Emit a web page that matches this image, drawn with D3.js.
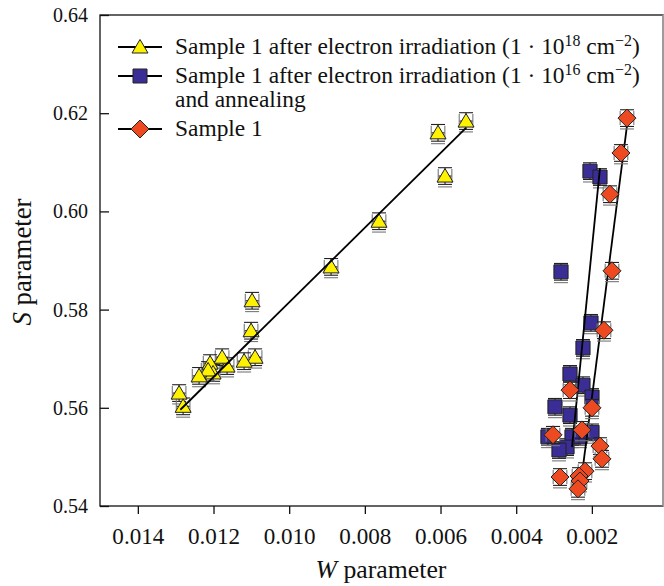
<!DOCTYPE html>
<html>
<head>
<meta charset="utf-8">
<script src="https://cdn.jsdelivr.net/npm/d3@7"></script>
<style>
  html, body { margin: 0; padding: 0; background: #fff; }
  svg text { font-family: "Liberation Serif", "DejaVu Serif", serif; fill: #111; }
</style>
</head>
<body>
<svg id="chart" width="664" height="586"></svg>
<script>
// ---- data (W parameter, S parameter) ----
const triW = [0.005326, 0.006066, 0.005881, 0.007625, 0.008893, 0.010980, 0.011007, 0.010901, 0.011192, 0.011641, 0.011773, 0.012090, 0.012011, 0.012143, 0.012381, 0.012909, 0.012803];
const triS = [0.6184, 0.6160, 0.6072, 0.5980, 0.5887, 0.5818, 0.5757, 0.5703, 0.5695, 0.5685, 0.5703, 0.5691, 0.5671, 0.5677, 0.5665, 0.5630, 0.5603];

const sqW = [0.002050, 0.001786, 0.002816, 0.002024, 0.002235, 0.002578, 0.002235, 0.001997, 0.002975, 0.002578, 0.001997, 0.002314, 0.002525, 0.003161, 0.002657, 0.002869];
const sqS = [0.6082, 0.6070, 0.5877, 0.5773, 0.5722, 0.5669, 0.5646, 0.5622, 0.5602, 0.5585, 0.5550, 0.5541, 0.5541, 0.5541, 0.5520, 0.5514];

const diaW = [0.001072, 0.001231, 0.001521, 0.001468, 0.001680, 0.002578, 0.001997, 0.002261, 0.003028, 0.001786, 0.001733, 0.002842, 0.002181, 0.002340, 0.002314, 0.002367];
const diaS = [0.6190, 0.6119, 0.6035, 0.5879, 0.5758, 0.5636, 0.5600, 0.5555, 0.5545, 0.5522, 0.5496, 0.5459, 0.5471, 0.5461, 0.5451, 0.5435];

// fitted lines (endpoints)
const triFitW = [0.012877, 0.005326];
const triFitS = [0.5596, 0.6170];
const sqFitW = [0.002525, 0.001786];
const sqFitS = [0.5520, 0.6088];
const diaFitW = [0.002314, 0.001046];
const diaFitS = [0.5433, 0.6190];

const sErr = 0.0017;
const wErr = 0.00018;

const xTicks = [0.014, 0.012, 0.010, 0.008, 0.006, 0.004, 0.002];
const yTicks = [0.54, 0.56, 0.58, 0.60, 0.62, 0.64];

const legendLabels = [
  "Sample 1 after electron irradiation",
  "Sample 1 after electron irradiation",
  "Sample 1"
];

// ---- layout ----
const svg = d3.select("#chart");
const L = 100, R = 663, T = 15, B = 506;
const x = d3.scaleLinear().domain([0.015, 0.00012]).range([L, R]);
const y = d3.scaleLinear().domain([0.54, 0.64]).range([B, T]);
const colors = { tri: "#FFF200", sq: "#3A2E96", dia: "#EE4A22" };

function fitWidth(sel, target) {
  sel.each(function () {
    const fs = parseFloat(d3.select(this).attr("font-size"));
    const w = this.getComputedTextLength();
    if (w > 0) d3.select(this).attr("font-size", (fs * target / w).toFixed(2));
  });
}

// frame
svg.append("rect").attr("x", L).attr("y", T).attr("width", R - L).attr("height", B - T)
  .attr("fill", "none").attr("stroke", "#111").attr("stroke-width", 1.3);
svg.append("line").attr("x1", R).attr("x2", R).attr("y1", T).attr("y2", B)
  .attr("stroke", "#bbb").attr("stroke-width", 1.3);

// x axis (ticks outward)
const xAxis = d3.axisBottom(x).tickValues(xTicks).tickFormat(d3.format(".3f")).tickSizeInner(8).tickSizeOuter(0).tickPadding(14);
const gx = svg.append("g").attr("transform", `translate(0,${B})`).call(xAxis).attr("font-family", null);
gx.select(".domain").remove();
gx.selectAll("line").attr("stroke", "#111").attr("stroke-width", 1.3);
gx.selectAll("text").attr("font-size", 22).attr("fill", "#111");
fitWidth(gx.selectAll("text"), 52);

// y axis (ticks inward)
const yAxis = d3.axisLeft(y).tickValues(yTicks).tickFormat(d3.format(".2f")).tickSizeInner(-9).tickSizeOuter(0).tickPadding(12);
const gy = svg.append("g").attr("transform", `translate(${L},0)`).call(yAxis).attr("font-family", null);
gy.select(".domain").remove();
gy.selectAll("line").attr("stroke", "#111").attr("stroke-width", 1.3);
gy.selectAll("text").attr("font-size", 21).attr("fill", "#111");
fitWidth(gy.selectAll("text"), 35);

// axis titles
const xt = svg.append("text").attr("x", 381).attr("y", 578).attr("text-anchor", "middle").attr("font-size", 21);
xt.append("tspan").attr("font-style", "italic").text("W");
xt.append("tspan").text(" parameter");
fitWidth(xt, 131);
const yt = svg.append("text").attr("transform", "translate(31,262) rotate(-90)").attr("text-anchor", "middle").attr("font-size", 21);
yt.append("tspan").attr("font-style", "italic").text("S");
yt.append("tspan").text(" parameter");
fitWidth(yt, 127);

// marker shapes
function triPath(cx, cy) { return `M${cx},${cy - 7.5}L${cx + 8},${cy + 6}L${cx - 8},${cy + 6}Z`; }
function sqPath(cx, cy) { const h = 7; return `M${cx - h},${cy - h}h${2 * h}v${2 * h}h${-2 * h}Z`; }
function diaPath(cx, cy) { const h = 9; return `M${cx},${cy - h}L${cx + h},${cy}L${cx},${cy + h}L${cx - h},${cy}Z`; }

const plot = svg.append("g");

function errorBars(g, W, S) {
  const eg = g.append("g").attr("stroke", "#222").attr("stroke-width", 1.1).attr("fill", "none");
  W.forEach((w, i) => {
    const cx = x(w), cy = y(S[i]);
    const y1 = y(S[i] + sErr), y2 = y(S[i] - sErr);
    const x1 = x(w + wErr), x2 = x(w - wErr);
    eg.append("line").attr("x1", cx).attr("x2", cx).attr("y1", y1).attr("y2", y2);
    eg.append("line").attr("x1", cx - 7).attr("x2", cx + 7).attr("y1", y1).attr("y2", y1);
    eg.append("line").attr("x1", cx - 7).attr("x2", cx + 7).attr("y1", y2).attr("y2", y2);
    eg.append("line").attr("x1", cx - 7).attr("x2", cx + 7).attr("y1", y2 + 2.5).attr("y2", y2 + 2.5).attr("stroke", "#777");
    eg.append("line").attr("x1", x1).attr("x2", x2).attr("y1", cy).attr("y2", cy);
    eg.append("line").attr("x1", x1).attr("x2", x1).attr("y1", cy - 7).attr("y2", cy + 7).attr("stroke", "#777");
    eg.append("line").attr("x1", x2).attr("x2", x2).attr("y1", cy - 7).attr("y2", cy + 7).attr("stroke", "#777");
  });
}

function markers(g, W, S, pathFn, fill) {
  g.append("g").selectAll("path").data(W.map((w, i) => [w, S[i]])).join("path")
    .attr("d", d => pathFn(x(d[0]), y(d[1])))
    .attr("fill", fill).attr("stroke", "#222").attr("stroke-width", 1);
}

function fitLine(g, W, S) {
  g.append("line").attr("x1", x(W[0])).attr("y1", y(S[0])).attr("x2", x(W[1])).attr("y2", y(S[1]))
    .attr("stroke", "#000").attr("stroke-width", 1.8);
}

errorBars(plot, triW, triS);
markers(plot, triW, triS, triPath, colors.tri);
fitLine(plot, triFitW, triFitS);

errorBars(plot, sqW, sqS);
markers(plot, sqW, sqS, sqPath, colors.sq);
fitLine(plot, sqFitW, sqFitS);

fitLine(plot, diaFitW, diaFitS);
errorBars(plot, diaW, diaS);
markers(plot, diaW, diaS, diaPath, colors.dia);

// legend
const leg = svg.append("g");
const legRows = [
  { y: 47, path: triPath, fill: colors.tri },
  { y: 76, path: sqPath, fill: colors.sq },
  { y: 129, path: diaPath, fill: colors.dia }
];
legRows.forEach(r => {
  leg.append("line").attr("x1", 118).attr("x2", 162).attr("y1", r.y).attr("y2", r.y).attr("stroke", "#000").attr("stroke-width", 1.8);
  leg.append("path").attr("d", r.path(140, r.y)).attr("fill", r.fill).attr("stroke", "#222").attr("stroke-width", 1);
});

const legFS = 21;
function fluenceText(yy, exp, label) {
  const t = leg.append("text").attr("x", 175).attr("y", yy + 7).attr("font-size", legFS);
  t.append("tspan").text(label + " (1 \u00B7 10");
  t.append("tspan").attr("dy", -8).attr("font-size", legFS * 0.68).text(exp);
  t.append("tspan").attr("dy", 8).text(" cm");
  t.append("tspan").attr("dy", -8).attr("font-size", legFS * 0.68).text("\u22122");
  t.append("tspan").attr("dy", 8).text(")");
  return t;
}
const l1 = fluenceText(47, "18", legendLabels[0]);
const l2 = fluenceText(76, "16", legendLabels[1]);
const l3 = leg.append("text").attr("x", 175).attr("y", 107).attr("font-size", legFS).text("and annealing");
const l4 = leg.append("text").attr("x", 175).attr("y", 136).attr("font-size", legFS).text(legendLabels[2]);
const w1 = l1.node().getComputedTextLength();
const k = w1 > 0 ? 465 / w1 : 1;
[l1, l2, l3, l4].forEach(t => {
  t.attr("font-size", legFS * k);
  t.selectAll("tspan").each(function () {
    const s = d3.select(this);
    const fs = s.attr("font-size");
    if (fs) s.attr("font-size", parseFloat(fs) * k);
  });
});
</script>
</body>
</html>
